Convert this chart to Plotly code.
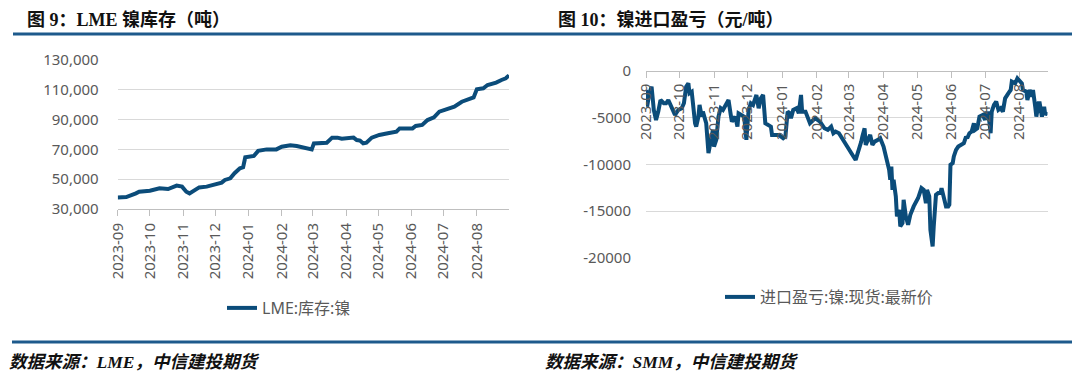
import plotly.graph_objects as go

# ---------------- data ----------------
lme_dates = ["2023-09-01", "2023-09-09", "2023-09-18", "2023-09-21", "2023-10-01", "2023-10-05",
             "2023-10-10", "2023-10-18", "2023-10-26", "2023-10-31", "2023-11-04", "2023-11-07",
             "2023-11-12", "2023-11-16", "2023-11-23", "2023-11-29", "2023-12-02", "2023-12-07",
             "2023-12-10", "2023-12-15", "2023-12-19", "2023-12-24", "2023-12-27", "2023-12-29",
             "2024-01-06", "2024-01-10", "2024-01-18", "2024-01-27", "2024-02-01", "2024-02-09",
             "2024-02-15", "2024-02-20", "2024-02-24", "2024-02-29", "2024-03-02", "2024-03-08",
             "2024-03-14", "2024-03-19", "2024-03-24", "2024-03-28", "2024-04-05", "2024-04-08",
             "2024-04-11", "2024-04-14", "2024-04-17", "2024-04-20", "2024-04-25", "2024-05-02",
             "2024-05-10", "2024-05-18", "2024-05-21", "2024-05-27", "2024-06-02", "2024-06-05",
             "2024-06-11", "2024-06-16", "2024-06-22", "2024-06-27", "2024-07-04", "2024-07-11",
             "2024-07-18", "2024-07-24", "2024-07-29", "2024-08-01", "2024-08-07", "2024-08-11",
             "2024-08-19", "2024-08-24", "2024-08-28", "2024-08-31"]
lme_stock = [37800, 38000, 40500, 41600, 42300, 43000,
             43900, 43400, 45700, 45000, 41600, 40500,
             42800, 44500, 45000, 45900, 46800, 47700,
             49500, 50600, 54000, 57300, 58000, 64700,
             65600, 69000, 70000, 70000, 71800, 72700,
             72300, 71400, 70700, 70000, 74000, 74000,
             74500, 77900, 77900, 77200, 78100, 77900,
             76300, 75900, 74000, 74500, 77900, 79700,
             80800, 81900, 84100, 84100, 84100, 85700,
             86400, 89700, 91500, 95300, 97300, 98700,
             102000, 103600, 104900, 110300, 111000, 113200,
             114800, 116600, 117700, 119700]

imp_dates = ["2023-09-01", "2023-09-02", "2023-09-04", "2023-09-06", "2023-09-08", "2023-09-10",
             "2023-09-12", "2023-09-14", "2023-09-17", "2023-09-19", "2023-09-21", "2023-09-24",
             "2023-09-27", "2023-09-30", "2023-10-03", "2023-10-05", "2023-10-07", "2023-10-09",
             "2023-10-10", "2023-10-12", "2023-10-13", "2023-10-15", "2023-10-16", "2023-10-18",
             "2023-10-19", "2023-10-21", "2023-10-22", "2023-10-25", "2023-10-27", "2023-10-29",
             "2023-10-31", "2023-11-01", "2023-11-03", "2023-11-05", "2023-11-07", "2023-11-09",
             "2023-11-12", "2023-11-14", "2023-11-16", "2023-11-17", "2023-11-20", "2023-11-22",
             "2023-11-23", "2023-11-26", "2023-11-28", "2023-11-30", "2023-12-02", "2023-12-04",
             "2023-12-06", "2023-12-09", "2023-12-11", "2023-12-13", "2023-12-15", "2023-12-17",
             "2023-12-19", "2023-12-22", "2023-12-23", "2023-12-26", "2023-12-29", "2024-01-02",
             "2024-01-04", "2024-01-06", "2024-01-08", "2024-01-09", "2024-01-11", "2024-01-14",
             "2024-01-16", "2024-01-18", "2024-01-19", "2024-01-22", "2024-01-24", "2024-01-26",
             "2024-01-29", "2024-01-31", "2024-02-04", "2024-02-08", "2024-02-11", "2024-02-14",
             "2024-02-16", "2024-02-18", "2024-02-21", "2024-02-24", "2024-02-26", "2024-02-28",
             "2024-03-01", "2024-03-03", "2024-03-05", "2024-03-07", "2024-03-08", "2024-03-10",
             "2024-03-12", "2024-03-13", "2024-03-15", "2024-03-16", "2024-03-18", "2024-03-20",
             "2024-03-22", "2024-03-24", "2024-03-27", "2024-03-29", "2024-04-01", "2024-04-03",
             "2024-04-05", "2024-04-06", "2024-04-07", "2024-04-08", "2024-04-09", "2024-04-10",
             "2024-04-12", "2024-04-13", "2024-04-15", "2024-04-16", "2024-04-18", "2024-04-19",
             "2024-04-21", "2024-04-23", "2024-04-25", "2024-04-28", "2024-05-02", "2024-05-05",
             "2024-05-07", "2024-05-09", "2024-05-10", "2024-05-12", "2024-05-13", "2024-05-15",
             "2024-05-16", "2024-05-18", "2024-05-20", "2024-05-22", "2024-05-23", "2024-05-25",
             "2024-05-27", "2024-05-29", "2024-05-30", "2024-05-31", "2024-06-02", "2024-06-03",
             "2024-06-05", "2024-06-07", "2024-06-10", "2024-06-12", "2024-06-14", "2024-06-15",
             "2024-06-17", "2024-06-19", "2024-06-21", "2024-06-22", "2024-06-24", "2024-06-26",
             "2024-06-29", "2024-07-01", "2024-07-02", "2024-07-04", "2024-07-06", "2024-07-07",
             "2024-07-09", "2024-07-11", "2024-07-13", "2024-07-15", "2024-07-17", "2024-07-19",
             "2024-07-22", "2024-07-24", "2024-07-25", "2024-07-28", "2024-07-30", "2024-08-01",
             "2024-08-03", "2024-08-04", "2024-08-07", "2024-08-08", "2024-08-10", "2024-08-12",
             "2024-08-13", "2024-08-15", "2024-08-16", "2024-08-18", "2024-08-19", "2024-08-21",
             "2024-08-23", "2024-08-24", "2024-08-26"]
imp_pnl = [-2060, -3840, -2400, -1700, -4200, -5260,
           -4370, -3130, -3480, -3480, -3130, -4010,
           -4720, -4190, -4010, -3480, -1700, -1350,
           -2400, -2240, -3480, -5610, -5970, -4900,
           -3660, -4900, -4370, -5610, -8810, -7390,
           -6320, -8100, -7390, -4900, -4010, -4190,
           -3660, -3130, -4720, -5430, -4900, -5970,
           -4550, -4720, -4900, -7390, -4190, -3480,
           -3660, -2590, -4010, -2950, -2590, -5610,
           -5790, -5970, -6860, -6860, -6860, -7210,
           -7030, -4370, -4550, -5080, -4190, -4010,
           -4550, -2590, -4370, -4370, -4900, -5610,
           -5260, -5080, -5430, -6150, -6320, -5970,
           -6680, -6500, -6680, -7210, -7740, -7920,
           -8450, -8630, -9160, -9520, -9160, -8280,
           -7570, -7030, -6150, -7920, -7390, -6860,
           -7920, -7570, -7390, -7210, -8100, -9160,
           -9870, -10590, -11650, -10230, -12720, -11650,
           -13430, -15560, -14850, -16620, -16270, -13780,
           -15560, -16450, -15380, -14490, -13600, -12540,
           -12720, -14140, -12720, -13430, -16980, -18760,
           -16620, -13250, -13070, -13070, -12540, -13780,
           -14490, -14490, -14310, -10050, -9870, -9160,
           -8450, -8100, -7920, -7740, -7030, -7210,
           -6680, -6500, -5610, -6320, -6150, -4900,
           -4720, -5260, -4550, -4550, -6680, -4370,
           -3660, -3300, -4190, -4010, -4370, -2950,
           -2400, -2060, -1170, -1350, -820, -1170,
           -1350, -2060, -2240, -3130, -2060, -2770,
           -2060, -3840, -4900, -3480, -3480, -4900,
           -3840, -4720, -4370]

lme_yticks = [30000, 50000, 70000, 90000, 110000, 130000]
pnl_yticks = [0, -5000, -10000, -15000, -20000]
pnl_ytext = [str(v) for v in pnl_yticks]

title_left = "图 9：LME 镍库存（吨）"
title_right = "图 10：镍进口盈亏（元/吨）"
source_left = "数据来源：LME，中信建投期货"
source_right = "数据来源：SMM，中信建投期货"
name_left = "LME:库存:镍"
name_right = "进口盈亏:镍:现货:最新价"

# ---------------- style ----------------
# The page body keeps an 8px margin, so the figure is laid out in page
# coordinates shifted by that offset.
OX, OY = 8, 8
FW, FH = 1072, 369
BLUE = "#0b4c7a"
RULE = "#1d5a8c"
GRID = "#d9d9d9"
AXIS = "#bfbfbf"
TXT = "#595959"
TICKFONT = dict(family="Noto Sans, Noto Sans CJK SC", size=15, color=TXT)
LEGFONT = dict(family="Noto Sans, Noto Sans CJK SC", size=16, color=TXT)


def px(x):
    return (x - OX) / FW


def py(y):
    return 1 - (y - OY) / FH


fig = go.Figure()
fig.add_trace(go.Scatter(x=lme_dates, y=lme_stock, mode="lines", name=name_left,
                         line=dict(color=BLUE, width=4), xaxis="x", yaxis="y",
                         legend="legend"))
fig.add_trace(go.Scatter(x=imp_dates, y=imp_pnl, mode="lines", name=name_right,
                         line=dict(color=BLUE, width=4), xaxis="x2", yaxis="y2",
                         legend="legend2"))

common_x = dict(type="date", dtick="M1", tick0="2023-09-01", tickformat="%Y-%m",
                tickangle=-90, tickfont=TICKFONT, showgrid=False, zeroline=False,
                showline=True, linecolor=AXIS, linewidth=1, tickcolor=AXIS, ticklen=6,
                ticks="outside", side="bottom")

fig.update_layout(
    width=FW, height=FH, margin=dict(l=0, r=0, t=0, b=0, autoexpand=False),
    paper_bgcolor="white", plot_bgcolor="white",
    xaxis=dict(common_x, domain=[px(117.7), px(509)], range=["2023-09-01", "2024-08-31"],
               anchor="y", ticklabelstandoff=1),
    yaxis=dict(domain=[py(209), py(60)], range=[30000, 130000], tickvals=lme_yticks,
               tickformat=",", showgrid=True, gridcolor=GRID, gridwidth=1, zeroline=False,
               ticks="", tickfont=TICKFONT, ticklabelstandoff=18, anchor="x"),
    xaxis2=dict(common_x, domain=[px(646), px(1047.5)], range=["2023-09-01", "2024-08-26"],
                anchor="free", position=py(70.7), ticklabelstandoff=0),
    yaxis2=dict(domain=[py(258), py(70.7)], range=[-20000, 0], tickvals=pnl_yticks,
                ticktext=pnl_ytext, showgrid=True, gridcolor=GRID, gridwidth=1,
                zeroline=False, ticks="", tickfont=TICKFONT, ticklabelstandoff=14,
                anchor="x2"),
    legend=dict(x=px(222), y=py(308), xanchor="left", yanchor="middle",
                orientation="h", bgcolor="rgba(0,0,0,0)", font=LEGFONT),
    legend2=dict(x=px(720), y=py(297), xanchor="left", yanchor="middle",
                 orientation="h", bgcolor="rgba(0,0,0,0)", font=LEGFONT),
    showlegend=True,
)

title_font = dict(family="Liberation Serif, Noto Sans CJK SC", size=18, color="#111111",
                  weight="bold")
src_font = dict(family="Liberation Serif, Noto Sans CJK SC", size=17.5, color="#111111",
                weight="bold", style="italic")

# titles: pinned to the top edge of the drawing so nothing gets clipped
for txt, x in [(title_left, 26), (title_right, 557)]:
    fig.add_annotation(text=txt, x=px(x), y=1.0, xref="paper", yref="paper",
                       xanchor="left", yanchor="top", showarrow=False, borderpad=0,
                       font=title_font)
for txt, x in [(source_left, 8), (source_right, 544)]:
    fig.add_annotation(text=txt, x=px(x), y=py(362), xref="paper", yref="paper",
                       xanchor="left", yanchor="middle", showarrow=False, borderpad=0,
                       font=src_font)

for y, x0, x1 in [(34, 13, 1077), (342, 12, 1078)]:
    fig.add_shape(type="line", xref="paper", yref="paper", x0=px(x0), x1=px(x1),
                  y0=py(y), y1=py(y), line=dict(color=RULE, width=3))

fig.write_html("out.html", config={"displayModeBar": False})
